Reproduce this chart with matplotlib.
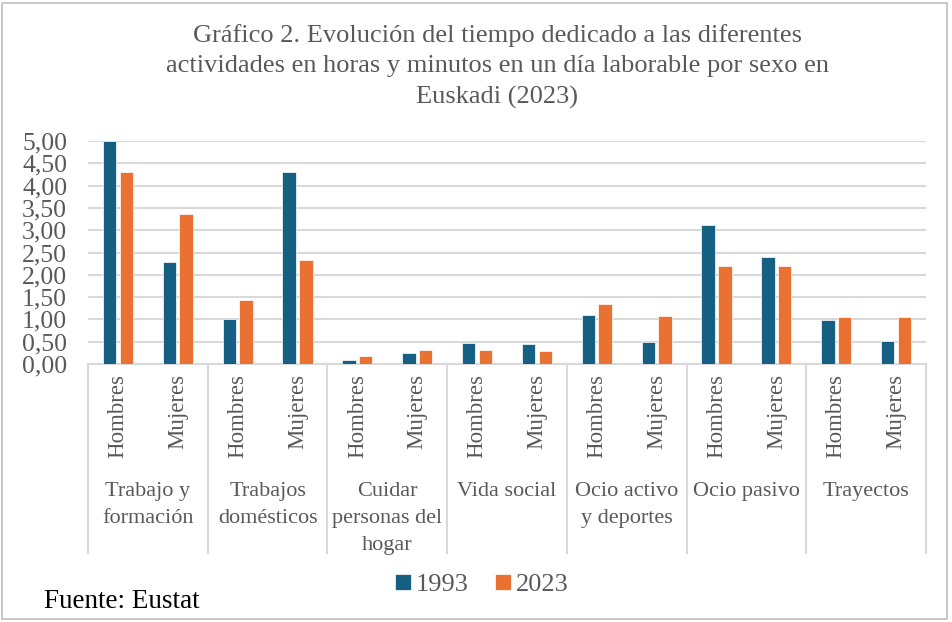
import matplotlib
matplotlib.use("Agg")
import matplotlib.pyplot as plt
from matplotlib.patches import Rectangle
import numpy as np

plt.rcParams['font.family'] = ['Liberation Serif', 'DejaVu Serif']

groups = ["Trabajo y\nformación", "Trabajos\ndomésticos", "Cuidar\npersonas del\nhogar",
          "Vida social", "Ocio activo\ny deportes", "Ocio pasivo", "Trayectos"]
sexes = ["Hombres", "Mujeres"]
series_names = ["1993", "2023"]
v1993 = [5.00, 2.29, 1.00, 4.31, 0.08, 0.25, 0.47, 0.44, 1.10, 0.49, 3.12, 2.41, 0.98, 0.51]
v2023 = [4.31, 3.36, 1.44, 2.34, 0.17, 0.32, 0.32, 0.29, 1.34, 1.08, 2.20, 2.20, 1.05, 1.05]
yticks = [0, 0.5, 1, 1.5, 2, 2.5, 3, 3.5, 4, 4.5, 5]
ytick_labels = ["0,00", "0,50", "1,00", "1,50", "2,00", "2,50", "3,00", "3,50", "4,00", "4,50", "5,00"]

c1993 = "#156082"
c2023 = "#E97132"
gray_text = "#595959"
grid_col = "#d9d9d9"

W, H = 952, 622
fig = plt.figure(figsize=(W / 100, H / 100), dpi=100)

ax_l, ax_r, ax_t, ax_b = 88, 926, 141, 364
ax = fig.add_axes([ax_l / W, 1 - ax_b / H, (ax_r - ax_l) / W, (ax_b - ax_t) / H])

n = len(v1993)
x = np.arange(n)
bw = 0.225
off = 0.14
b1 = ax.bar(x - off, v1993, bw, color=c1993, edgecolor="white", linewidth=0.5, label=series_names[0], zorder=3)
b2 = ax.bar(x + off, v2023, bw, color=c2023, edgecolor="white", linewidth=0.5, label=series_names[1], zorder=3)

ax.set_xlim(-0.5, n - 0.5)
ax.set_ylim(0, 5)
ax.set_yticks(yticks)
ax.set_yticklabels(ytick_labels, fontsize=18.5, color=gray_text)
ax.tick_params(axis='y', length=0, pad=15)
ax.set_xticks([])
ax.yaxis.grid(True, color=grid_col, linewidth=1.5, zorder=0)
ax.set_axisbelow(True)
for s in ["top", "right", "left"]:
    ax.spines[s].set_visible(False)
ax.spines["bottom"].set_color(grid_col)
ax.spines["bottom"].set_linewidth(1.5)

trans = ax.get_xaxis_transform()
sep_bottom = (ax_b - 553) / (ax_b - ax_t)
for k in range(len(groups) + 1):
    xs = -0.5 + 2 * k
    ax.plot([xs, xs], [0, sep_bottom], transform=trans, color=grid_col, linewidth=1.5, clip_on=False)

sex_y = (ax_b - 374) / (ax_b - ax_t)
for i in range(n):
    ax.text(x[i], sex_y, sexes[i % 2], transform=trans, rotation=90, ha="center", va="top",
            fontsize=16.5, color=gray_text)

grp_y = (ax_b - 482) / (ax_b - ax_t)
for g, name in enumerate(groups):
    ax.text(2 * g + 0.5, grp_y, name, transform=trans, ha="center", va="top",
            fontsize=16, color=gray_text, linespacing=1.58)

fig.text(497 / W, 1 - 24 / H,
         "Gráfico 2. Evolución del tiempo dedicado a las diferentes\n"
         "actividades en horas y minutos en un día laborable por sexo en\n"
         "Euskadi (2023)",
         ha="center", va="top", fontsize=19, color=gray_text, linespacing=1.5)

leg = fig.legend(handles=[b1, b2], labels=series_names, loc="center",
                 bbox_to_anchor=(482 / W, 1 - 585 / H), ncol=2, frameon=False,
                 fontsize=19, handlelength=0.6, handleheight=0.6, handletextpad=0.2,
                 columnspacing=1.0)
for t in leg.get_texts():
    t.set_color(gray_text)

fig.text(44 / W, 1 - 601 / H, "Fuente: Eustat", ha="left", va="center", fontsize=19.5, color="black")

fig.patches.append(Rectangle((2 / W, 3 / H), (947 - 2) / W, (619 - 3) / H, transform=fig.transFigure,
                             fill=False, edgecolor="#bfbfbf", linewidth=1.2))

fig.savefig("out.png", dpi=100)
